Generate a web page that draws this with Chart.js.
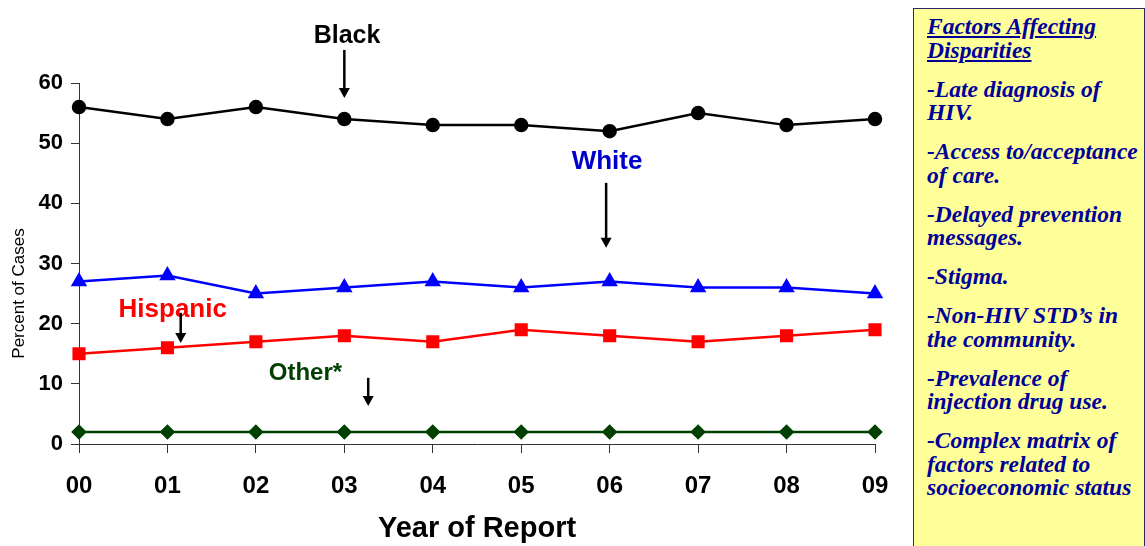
<!DOCTYPE html>
<html>
<head>
<meta charset="utf-8">
<script src="https://cdn.jsdelivr.net/npm/chart.js@4"></script>
<style>
  body { margin: 0; background: #fff; width: 1145px; height: 546px; overflow: hidden; position: relative; }
  #wrap { position: absolute; left: 0; top: 0; width: 910px; height: 546px; }
  #factors {
    position: absolute; left: 913px; top: 8px; width: 232px; height: 545px;
    background: #ffff99; border: 1px solid #2a2a6a; box-sizing: border-box;
    padding: 6px 6px 0 13px;
    font-family: "Liberation Serif", "Times New Roman", serif;
    font-weight: bold; font-style: italic; font-size: 23.5px; line-height: 23.5px; color: #000099;
  }
  #factors p { margin: 0 0 15.5px 0; }
  #factors .title { text-decoration: underline; }
</style>
</head>
<body>
<div id="wrap"><canvas id="raceChart" width="910" height="546"></canvas></div>
<div id="factors">
  <p class="title">Factors Affecting Disparities</p>
  <p>-Late diagnosis of HIV.</p>
  <p>-Access to/acceptance of care.</p>
  <p>-Delayed prevention messages.</p>
  <p>-Stigma.</p>
  <p>-Non-HIV STD’s in the community.</p>
  <p>-Prevalence of injection drug use.</p>
  <p>-Complex matrix of factors related to socioeconomic status</p>
</div>
<script>
const years = ['00', '01', '02', '03', '04', '05', '06', '07', '08', '09'];
const black = [56, 54, 56, 54, 53, 53, 52, 55, 53, 54];
const white = [27, 28, 25, 26, 27, 26, 27, 26, 26, 25];
const hispanic = [15, 16, 17, 18, 17, 19, 18, 17, 18, 19];
const other = [2, 2, 2, 2, 2, 2, 2, 2, 2, 2];

// labels with arrows, placed in data units (category index, percent)
const callouts = [
    { text: 'Black', color: '#000000', size: 25, x: 3.03, y: 66.6, ax: 3.0, y1: 65.5, y2: 57.5 },
    { text: 'White', color: '#0000cc', size: 26, x: 5.97, y: 45.7, ax: 5.96, y1: 43.4, y2: 32.6 },
    { text: 'Hispanic', color: '#ff0000', size: 26, x: 1.06, y: 21.1, ax: 1.15, y1: 21.8, y2: 16.8 },
    { text: 'Other*', color: '#004000', size: 24, x: 2.56, y: 10.6, ax: 3.27, y1: 11.0, y2: 6.3 }
];

const calloutPlugin = {
    id: 'callouts',
    afterDatasetsDraw(chart) {
        const c = chart.ctx;
        const xs = chart.scales.x, ys = chart.scales.y;
        const px = v => xs.left + (xs.right - xs.left) * v / (years.length - 1);
        c.save();
        callouts.forEach(o => {
            c.font = 'bold ' + o.size + 'px "Liberation Sans", Arial, sans-serif';
            c.fillStyle = o.color;
            c.textAlign = 'center';
            c.textBaseline = 'alphabetic';
            c.fillText(o.text, px(o.x), ys.getPixelForValue(o.y));
            const ax = px(o.ax), a1 = ys.getPixelForValue(o.y1), a2 = ys.getPixelForValue(o.y2);
            c.strokeStyle = '#000';
            c.fillStyle = '#000';
            c.lineWidth = 2.5;
            c.beginPath();
            c.moveTo(ax, a1);
            c.lineTo(ax, a2 - 8);
            c.stroke();
            c.beginPath();
            c.moveTo(ax - 5.5, a2 - 10);
            c.lineTo(ax + 5.5, a2 - 10);
            c.lineTo(ax, a2);
            c.closePath();
            c.fill();
        });
        // y axis title
        c.translate(19.5, (ys.top + ys.bottom) / 2 + 30);
        c.rotate(-Math.PI / 2);
        c.font = '17px "Liberation Sans", Arial, sans-serif';
        c.fillStyle = '#000';
        c.textAlign = 'center';
        c.textBaseline = 'middle';
        c.fillText('Percent of Cases', 0, 0);
        c.restore();
    }
};

const ctx = document.getElementById('raceChart').getContext('2d');
const fam = '"Liberation Sans", Arial, sans-serif';

new Chart(ctx, {
    type: 'line',
    data: {
        labels: years,
        datasets: [
            { label: 'Black', data: black, borderColor: '#000000', backgroundColor: '#000000',
              pointStyle: 'circle', pointRadius: 6, borderWidth: 2.5 },
            { label: 'White', data: white, borderColor: '#0000ff', backgroundColor: '#0000ff',
              pointStyle: 'triangle', pointRadius: 7, borderWidth: 2.5 },
            { label: 'Hispanic', data: hispanic, borderColor: '#ff0000', backgroundColor: '#ff0000',
              pointStyle: 'rect', pointRadius: 7.5, borderWidth: 2.5 },
            { label: 'Other', data: other, borderColor: '#004000', backgroundColor: '#004000',
              pointStyle: 'rectRot', pointRadius: 6, borderWidth: 2.5 }
        ]
    },
    options: {
        responsive: false,
        animation: false,
        layout: { padding: { top: 83, right: 35, left: 0, bottom: 0 } },
        plugins: { legend: { display: false }, tooltip: { enabled: false } },
        scales: {
            x: {
                offset: false,
                grid: { drawOnChartArea: false, drawTicks: true, tickLength: 9, color: '#333' },
                border: { color: '#333', width: 1 },
                ticks: { color: '#000', font: { family: fam, size: 24, weight: 'bold' }, padding: 19 },
                title: {
                    display: true, text: 'Year of Report', color: '#000',
                    font: { family: fam, size: 29, weight: 'bold' },
                    padding: { top: 10, bottom: 0 }
                },
                afterFit: s => { s.height = 102; }
            },
            y: {
                min: 0, max: 60,
                grid: { drawOnChartArea: false, drawTicks: true, tickLength: 8, color: '#333' },
                border: { color: '#333', width: 1 },
                ticks: { stepSize: 10, color: '#000', font: { family: fam, size: 22, weight: 'bold' }, padding: 8 },
                title: { display: false },
                afterFit: s => { s.width = 79; }
            }
        }
    },
    plugins: [calloutPlugin]
});
</script>
</body>
</html>
